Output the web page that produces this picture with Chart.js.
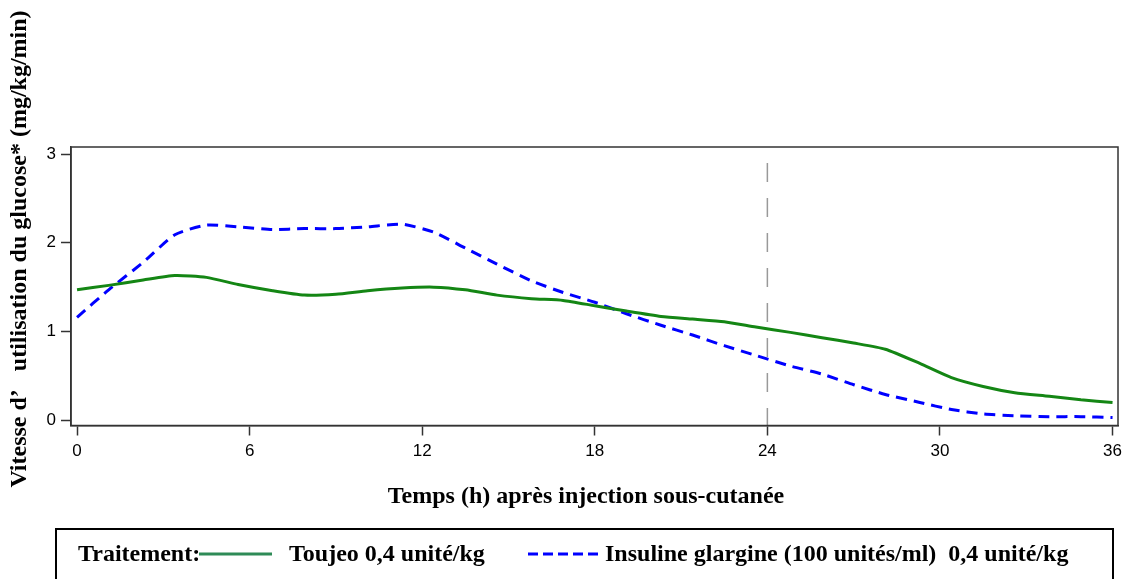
<!DOCTYPE html>
<html>
<head>
<meta charset="utf-8">
<script src="https://cdn.jsdelivr.net/npm/chart.js@4"></script>
<style>
  html, body { margin: 0; padding: 0; background: #fff; }
  canvas { display: block; }
</style>
</head>
<body>
<canvas id="gir" width="1123" height="579"></canvas>
<script>
// Data (hours after injection)
const hours = [0, 1.1, 2.3, 3.4, 4.5, 5.6, 6.8, 7.9, 9.0, 10.1, 11.3, 12.4, 13.5, 14.6, 15.8, 16.9, 18.0,
    19.1, 20.3, 21.4, 22.5, 23.6, 24.8, 25.9, 27.0, 28.1, 29.3, 30.4, 31.5, 32.6, 33.8, 34.9, 36.0];
const toujeo = [1.47, 1.52, 1.58, 1.63, 1.61, 1.53, 1.46, 1.41, 1.42, 1.46, 1.49, 1.50, 1.47, 1.41, 1.37, 1.35, 1.29,
    1.23, 1.17, 1.14, 1.11, 1.05, 0.99, 0.93, 0.87, 0.80, 0.64, 0.48, 0.38, 0.31, 0.27, 0.23, 0.20];
const glargine = [1.16, 1.47, 1.78, 2.09, 2.20, 2.18, 2.15, 2.16, 2.16, 2.18, 2.21, 2.12, 1.94, 1.76, 1.57, 1.44, 1.33,
    1.20, 1.07, 0.96, 0.84, 0.73, 0.61, 0.52, 0.40, 0.29, 0.20, 0.12, 0.07, 0.05, 0.04, 0.04, 0.03];
const xTicks = [0, 6, 12, 18, 24, 30, 36];
const yTicks = [0, 1, 2, 3];
const refHour = 24;

const xTitle = 'Temps (h) après injection sous-cutanée';
const yTitle = 'Vitesse d\u2019   utilisation du glucose* (mg/kg/min)';
const legendTitle = 'Traitement:';
const seriesNames = ['Toujeo 0,4 unité/kg', 'Insuline glargine (100 unités/ml)  0,4 unité/kg'];

const GREEN = '#148614';
const GREEN_LEGEND = '#2e8b57';
const BLUE = '#0000ff';
const AXIS = '#333';
const SERIF = "'Liberation Serif', 'DejaVu Serif', serif";
const SANS = "'Liberation Sans', Arial, sans-serif";

const toPoints = (ys) => hours.map((h, i) => ({ x: h, y: ys[i] }));

// frame around the plot, vertical reference at 24 h, titles and legend box
const framePlugin = {
    id: 'frame',
    beforeDatasetsDraw(chart) {
        const { ctx, chartArea: a, scales } = chart;
        ctx.save();
        const x = scales.x.getPixelForValue(refHour);
        ctx.strokeStyle = '#999';
        ctx.lineWidth = 1.5;
        ctx.setLineDash([19, 16]);
        ctx.beginPath();
        ctx.moveTo(x, scales.y.getPixelForValue(2.9));
        ctx.lineTo(x, a.bottom);
        ctx.stroke();
        ctx.restore();
    },
    afterDraw(chart) {
        const { ctx, chartArea: a } = chart;
        ctx.save();
        ctx.strokeStyle = AXIS;
        ctx.lineWidth = 1.5;
        ctx.strokeRect(a.left, a.top, a.right - a.left, a.bottom - a.top);

        // axis titles
        ctx.fillStyle = '#000';
        ctx.font = `bold 24px ${SERIF}`;
        ctx.textAlign = 'center';
        ctx.textBaseline = 'middle';
        ctx.fillText(xTitle, 586, 497);
        ctx.save();
        ctx.translate(20, 249);
        ctx.rotate(-Math.PI / 2);
        ctx.fillText(yTitle, 0, 0);
        ctx.restore();

        // legend box
        ctx.lineWidth = 2;
        ctx.strokeStyle = '#000';
        ctx.strokeRect(56, 529, 1057, 80);
        ctx.textAlign = 'left';
        ctx.fillText(legendTitle, 78, 555);

        ctx.lineWidth = 3;
        ctx.strokeStyle = GREEN_LEGEND;
        ctx.beginPath();
        ctx.moveTo(199, 554);
        ctx.lineTo(272, 554);
        ctx.stroke();
        ctx.fillText(seriesNames[0], 289, 555);

        ctx.strokeStyle = BLUE;
        ctx.setLineDash([10, 5]);
        ctx.beginPath();
        ctx.moveTo(528, 554);
        ctx.lineTo(603, 554);
        ctx.stroke();
        ctx.setLineDash([]);
        ctx.fillText(seriesNames[1], 605, 555);
        ctx.restore();
    }
};

new Chart(document.getElementById('gir'), {
    type: 'scatter',
    data: {
        datasets: [
            {
                label: seriesNames[0],
                data: toPoints(toujeo),
                showLine: true,
                borderColor: GREEN,
                borderWidth: 3,
                pointRadius: 0,
                tension: 0.2
            },
            {
                label: seriesNames[1],
                data: toPoints(glargine),
                showLine: true,
                borderColor: BLUE,
                borderWidth: 3,
                borderDash: [11, 7],
                pointRadius: 0,
                tension: 0.2
            }
        ]
    },
    options: {
        responsive: false,
        animation: false,
        layout: { padding: { top: 147, right: 5, left: 0, bottom: 0 } },
        plugins: { legend: { display: false }, tooltip: { enabled: false } },
        scales: {
            x: {
                type: 'linear',
                min: -0.21,
                max: 36.19,
                afterBuildTicks: (s) => { s.ticks = xTicks.map(v => ({ value: v })); },
                afterFit: (s) => { s.height = 153.5; s.paddingLeft = 0; s.paddingRight = 0; },
                grid: { drawOnChartArea: false, drawTicks: true, tickLength: 10, tickColor: AXIS, tickWidth: 1.5 },
                border: { display: true, color: AXIS, width: 1.5 },
                ticks: { color: '#000', padding: 6, maxRotation: 0, font: { family: SANS, size: 17 } }
            },
            y: {
                type: 'linear',
                min: -0.06,
                max: 3.08,
                afterBuildTicks: (s) => { s.ticks = yTicks.map(v => ({ value: v })); },
                afterFit: (s) => { s.width = 71; s.paddingTop = 0; s.paddingBottom = 0; },
                grid: { drawOnChartArea: false, drawTicks: true, tickLength: 10, tickColor: AXIS, tickWidth: 1.5 },
                border: { display: true, color: AXIS, width: 1.5 },
                ticks: { color: '#000', padding: 5, font: { family: SANS, size: 17 } }
            }
        }
    },
    plugins: [framePlugin]
});
</script>
</body>
</html>
